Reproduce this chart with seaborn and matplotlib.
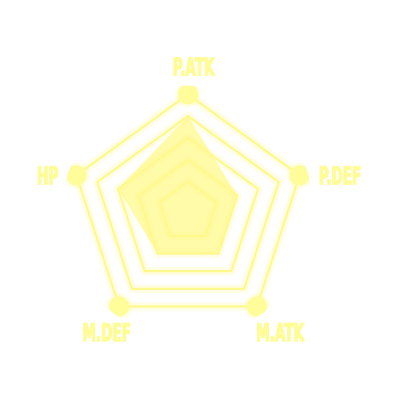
import numpy as np
import matplotlib
matplotlib.use('Agg')
import matplotlib.pyplot as plt
import matplotlib.patheffects as pe
from matplotlib.transforms import Affine2D
import seaborn as sns

# Data
categories = ["P.ATK", "P.DEF", "M.ATK", "M.DEF", "HP"]
values = [4, 2, 2, 2, 3]
ring_levels = [1, 2, 3, 4, 5]
max_level = 5

LINE = "#FFF98A"
FILL = "#FFFA8C"
TEXT = "#FFFC96"


class Squeeze(pe.AbstractPathEffect):
    """Narrow the glyphs horizontally around their centre (condensed look)."""
    def __init__(self, sx=0.55, lw=0.8):
        super().__init__()
        self.sx = sx
        self.lw = lw

    def draw_path(self, renderer, gc, tpath, affine, rgbFace=None):
        v = tpath.vertices
        cx = (v[:, 0].min() + v[:, 0].max()) / 2 if len(v) else 0
        squeeze = Affine2D().translate(-cx, 0).scale(self.sx, 1).translate(cx, 0)
        gc0 = renderer.new_gc()
        gc0.copy_properties(gc)
        gc0.set_linewidth(self.lw)
        gc0.set_foreground(rgbFace)
        renderer.draw_path(gc0, tpath, squeeze + affine, rgbFace)
        gc0.restore()


sns.set_style("white")
plt.rcParams['font.family'] = ['DejaVu Sans']

fig = plt.figure(figsize=(4, 4), dpi=100)
ax = fig.add_axes([0.155, 0.156, 0.63, 0.63], projection='polar')
ax.set_theta_zero_location('N')
ax.set_theta_direction(-1)
ax.set_ylim(-0.376, 5.4)

angles = np.linspace(0, 2 * np.pi, len(categories), endpoint=False)
closed = np.append(angles, angles[0])

glow = [pe.Stroke(linewidth=6, foreground=LINE, alpha=0.22, joinstyle='round'),
        pe.Normal()]

# grid pentagons
for lv in ring_levels:
    ax.plot(closed, [lv] * len(closed), color=LINE, lw=1.6, zorder=2,
            solid_joinstyle='round', path_effects=glow)

# data polygon
vals = values + values[:1]
ax.fill(closed, vals, color=FILL, alpha=0.75, lw=0, zorder=3)

# outer dots with a soft halo
ax.scatter(angles, [max_level] * len(angles), s=340, color="#FFFC9A",
           alpha=0.3, zorder=4, edgecolors="none")
ax.scatter(angles, [max_level] * len(angles), s=210, color="#FFFC9A",
           zorder=5, edgecolors="none")

# labels (offsets in pixels from the outer vertex to the label baseline centre)
label_offsets = [(5.5, 18.7), (41, -9), (23, -34.7), (-12, -34.7), (-28.5, -9)]
for ang, name, off in zip(angles, categories, label_offsets):
    ax.annotate(name, xy=(ang, max_level), xytext=off, textcoords='offset pixels',
                ha='center', va='baseline', fontsize=17.8, fontweight='bold',
                color=TEXT, annotation_clip=False, path_effects=[Squeeze(0.55)])

ax.grid(False)
ax.set_xticks([])
ax.set_yticks([])
ax.spines['polar'].set_visible(False)
ax.set_facecolor('none')

fig.savefig("out.png", dpi=100, facecolor='white')
